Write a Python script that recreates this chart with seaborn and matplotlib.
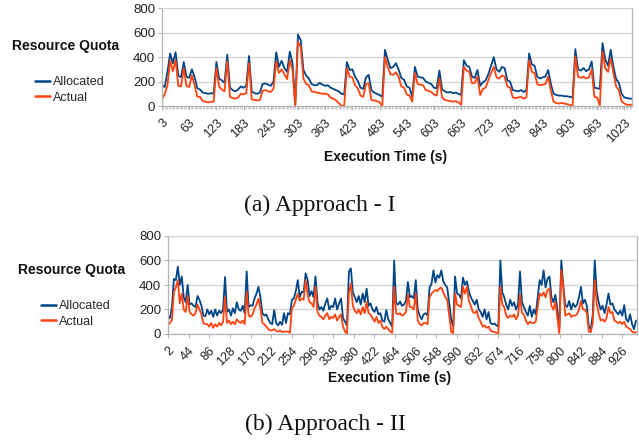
import numpy as np
import pandas as pd
import seaborn as sns
import matplotlib
matplotlib.use("Agg")
import matplotlib.pyplot as plt
from matplotlib.ticker import MultipleLocator
from matplotlib.lines import Line2D

# ---------------- data: Approach I (sampled every 6 s, from 3 s) ----------------
time_a_start, time_a_step, time_a_end = 3, 6, 1041
alloc_a = [
    170, 155, 280, 430, 350, 440, 250, 235, 360, 240,
    230, 300, 235, 145, 135, 110, 105, 100, 105, 100,
    360, 225, 210, 190, 420, 150, 130, 120, 135, 160,
    150, 165, 410, 120, 105, 100, 110, 180, 185, 175,
    165, 200, 440, 320, 370, 310, 280, 445, 350, 10,
    585, 540, 295, 250, 225, 180, 170, 170, 190, 175,
    165, 170, 150, 140, 130, 120, 100, 95, 360, 295,
    300, 240, 205, 150, 140, 235, 255, 130, 110, 100,
    90, 75, 460, 380, 310, 320, 350, 300, 230, 215,
    160, 150, 75, 320, 240, 235, 230, 200, 190, 180,
    150, 145, 290, 135, 120, 110, 115, 105, 110, 100,
    90, 375, 330, 320, 240, 230, 295, 165, 195, 210,
    260, 330, 400, 300, 280, 320, 310, 210, 200, 130,
    125, 120, 130, 115, 130, 430, 340, 330, 240, 225,
    235, 240, 295, 180, 100, 90, 85, 85, 80, 80,
    75, 70, 465, 300, 290, 310, 285, 300, 365, 150,
    145, 140, 515, 380, 330, 460, 320, 220, 190, 100,
    70, 65, 60, 60,
]
actual_a = [
    60, 95, 170, 375, 285, 375, 165, 160, 310, 165,
    155, 250, 170, 75, 75, 40, 35, 30, 35, 35,
    310, 160, 135, 120, 365, 75, 65, 60, 70, 100,
    95, 105, 350, 55, 50, 45, 50, 125, 130, 120,
    115, 140, 365, 270, 300, 260, 220, 375, 295, 0,
    525, 485, 225, 180, 170, 120, 115, 110, 105, 100,
    100, 95, 70, 60, 45, 25, 0, 5, 310, 240,
    235, 170, 145, 85, 75, 180, 185, 50, 45, 40,
    30, 0, 400, 320, 260, 255, 275, 240, 160, 150,
    95, 85, 35, 270, 180, 175, 170, 130, 125, 115,
    95, 85, 225, 70, 50, 45, 40, 35, 40, 30,
    10, 320, 290, 280, 185, 190, 240, 90, 140, 150,
    210, 270, 320, 235, 225, 250, 240, 160, 150, 70,
    65, 70, 75, 60, 70, 375, 280, 270, 180, 170,
    175, 180, 240, 125, 35, 25, 20, 25, 20, 15,
    10, 0, 405, 240, 230, 240, 225, 235, 300, 75,
    70, 5, 445, 310, 280, 390, 270, 160, 130, 40,
    20, 10, 10, 10,
]
ticks_a = [3, 63, 123, 183, 243, 303, 363, 423, 483, 543, 603, 663,
           723, 783, 843, 903, 963, 1023]

# ---------------- data: Approach II (sampled every 4 s, from 2 s) ----------------
time_b_start, time_b_step, time_b_end = 2, 4, 954
alloc_b = [
    140, 130, 220, 450, 440, 550, 400, 470, 300, 260,
    400, 240, 250, 230, 220, 310, 280, 230, 150, 145,
    200, 160, 190, 140, 200, 150, 190, 170, 200, 465,
    180, 200, 150, 210, 170, 260, 200, 190, 230, 170,
    510, 220, 235, 230, 290, 330, 385, 300, 170, 150,
    160, 120, 90, 80, 195, 90, 70, 100, 75, 170,
    90, 170, 160, 280, 290, 350, 440, 300, 345, 340,
    495, 440, 310, 350, 300, 470, 260, 200, 220, 190,
    250, 290, 200, 230, 220, 290, 200, 250, 290, 130,
    100, 70, 510, 535, 340, 300, 260, 310, 240, 330,
    260, 370, 230, 250, 200, 180, 220, 160, 170, 110,
    100, 195, 120, 90, 60, 600, 250, 240, 265, 230,
    240, 270, 425, 300, 310, 290, 440, 200, 150, 120,
    160, 170, 150, 380, 410, 520, 420, 480, 460, 520,
    430, 400, 380, 250, 120, 60, 470, 330, 320, 290,
    460, 400, 430, 350, 300, 270, 240, 280, 200, 180,
    140, 200, 120, 180, 90, 80, 85, 70, 60, 600,
    340, 300, 240, 200, 280, 230, 260, 200, 240, 510,
    260, 220, 180, 150, 230, 140, 200, 160, 300, 440,
    400, 520, 380, 450, 470, 300, 260, 320, 200, 45,
    600, 400, 240, 220, 270, 200, 250, 220, 240, 300,
    385, 250, 280, 230, 60, 40, 160, 600, 350, 260,
    200, 230, 170, 240, 330, 240, 250, 200, 180, 160,
    190, 150, 235, 120, 100, 160, 80, 40, 110,
]
actual_b = [
    75, 90, 115, 345, 380, 440, 250, 330, 200, 180,
    310, 180, 160, 150, 170, 240, 200, 160, 90, 80,
    80, 60, 90, 50, 80, 60, 90, 70, 100, 300,
    90, 110, 80, 100, 80, 120, 100, 90, 110, 80,
    345, 150, 140, 160, 210, 240, 290, 210, 90, 80,
    60, 40, 30, 30, 40, 25, 20, 30, 15, 20,
    20, 20, 10, 210, 230, 280, 330, 270, 290, 280,
    440, 320, 260, 250, 220, 385, 180, 150, 140, 120,
    150, 170, 120, 140, 130, 160, 110, 140, 160, 60,
    20, 0, 330, 410, 230, 190, 170, 200, 160, 220,
    170, 260, 170, 160, 130, 100, 140, 90, 110, 60,
    40, 60, 40, 20, 10, 385, 170, 160, 170, 150,
    160, 180, 320, 220, 220, 200, 330, 110, 80, 70,
    90, 90, 80, 300, 330, 345, 360, 350, 370, 380,
    340, 300, 280, 150, 20, 5, 330, 240, 230, 220,
    385, 330, 385, 270, 230, 180, 170, 190, 130, 100,
    60, 70, 50, 60, 30, 20, 15, 10, 5, 385,
    240, 220, 150, 130, 150, 140, 160, 120, 150, 320,
    170, 160, 110, 80, 100, 90, 90, 100, 220, 330,
    310, 340, 300, 360, 370, 230, 200, 260, 130, 5,
    520, 380, 150, 160, 170, 140, 150, 150, 160, 200,
    270, 200, 200, 170, 20, 15, 90, 440, 250, 170,
    110, 120, 100, 130, 220, 170, 180, 110, 100, 90,
    100, 80, 100, 60, 50, 40, 20, 10, 15,
]
ticks_b = [2, 44, 86, 128, 170, 212, 254, 296, 338, 380, 422, 464, 506,
           548, 590, 632, 674, 716, 758, 800, 842, 884, 926]

series_names = ["Allocated", "Actual"]
y_ticks = [0, 200, 400, 600, 800]

# ---------------- styling ----------------
sns.set_style("white")
plt.rcParams['font.family'] = ['Liberation Sans', 'DejaVu Sans']

BLUE = "#004586"
ORANGE = "#ff420e"
GRID = "#d4d4d4"
SPINE = "#b3b3b3"
palette = {"Allocated": BLUE, "Actual": ORANGE}

W, H = 639, 440
fig = plt.figure(figsize=(W / 100, H / 100), dpi=100)


def fx(px):
    return px / W


def fy(py):
    return 1 - py / H


ax1 = fig.add_axes([fx(162), fy(106), (632 - 162) / W, (106 - 8.3) / H])
ax2 = fig.add_axes([fx(168), fy(334), (637 - 168) / W, (334 - 236) / H])


def draw(ax, start, step, end, alloc, actual, ticks, xmax, minor_step):
    t = np.arange(start, end + 1, step)
    assert len(t) == len(alloc) == len(actual), (len(t), len(alloc), len(actual))
    df = pd.DataFrame({
        "t": np.concatenate([t, t]),
        "v": list(alloc) + list(actual),
        "s": [series_names[0]] * len(t) + [series_names[1]] * len(t),
    })
    sns.lineplot(data=df, x="t", y="v", hue="s", hue_order=series_names,
                 palette=palette, ax=ax, linewidth=1.3, legend=False,
                 estimator=None, sort=False)
    ax.set_xlim(start, xmax)
    ax.set_ylim(0, 800)
    ax.set_yticks(y_ticks)
    ax.set_yticklabels([str(v) for v in y_ticks], fontsize=9.5, color="#222222")
    ax.set_xticks(ticks)
    ax.set_xticklabels([str(v) for v in ticks], fontsize=9, color="#222222",
                       rotation=45, ha="right", va="top",
                       rotation_mode="anchor")
    if minor_step:
        ax.xaxis.set_minor_locator(MultipleLocator(minor_step))
        ax.tick_params(axis="x", which="minor", length=2.5, width=0.6,
                       color="#c8c8c8", direction="out", bottom=True)
    ax.tick_params(axis="x", which="major", length=3, width=0.7,
                   color="#b0b0b0", direction="out", bottom=True, pad=5)
    ax.tick_params(axis="y", which="major", length=3, width=0.7,
                   color="#b0b0b0", direction="out", left=True, pad=2)
    ax.yaxis.grid(True, color=GRID, linewidth=0.9)
    ax.xaxis.grid(False)
    ax.set_axisbelow(True)
    for sp in ax.spines.values():
        sp.set_color(SPINE)
        sp.set_linewidth(0.9)
        sp.set_visible(True)
    ax.spines["top"].set_color(GRID)
    ax.set_xlabel("")
    ax.set_ylabel("")


draw(ax1, time_a_start, time_a_step, time_a_end, alloc_a, actual_a, ticks_a, 1040, 3)
draw(ax2, time_b_start, time_b_step, time_b_end, alloc_b, actual_b, ticks_b, 956, None)

handles = [Line2D([], [], color=palette[n], linewidth=1.8) for n in series_names]
serif = ["Liberation Serif", "DejaVu Serif"]

# panel (a) side texts
fig.text(fx(66), fy(46), "Resource Quota", ha="center", va="center",
         fontsize=10, fontweight="bold", color="#111111")
fig.legend(handles, series_names, loc="upper left",
           bbox_to_anchor=(fx(35), fy(76)), frameon=False, fontsize=9,
           handlelength=1.2, handletextpad=0.25, labelspacing=0.3,
           borderpad=0, borderaxespad=0)
fig.text(fx(386), fy(157), "Execution Time (s)", ha="center", va="center",
         fontsize=10, fontweight="bold", color="#111111")
fig.text(fx(320), fy(205), "(a) Approach - I", ha="center", va="center",
         fontsize=17, family=serif, color="#111111")

# panel (b) side texts
fig.text(fx(72), fy(270), "Resource Quota", ha="center", va="center",
         fontsize=10, fontweight="bold", color="#111111")
fig.legend(handles, series_names, loc="upper left",
           bbox_to_anchor=(fx(41), fy(300)), frameon=False, fontsize=9,
           handlelength=1.2, handletextpad=0.25, labelspacing=0.3,
           borderpad=0, borderaxespad=0)
fig.text(fx(390), fy(378), "Execution Time (s)", ha="center", va="center",
         fontsize=10, fontweight="bold", color="#111111")
fig.text(fx(325), fy(424), "(b) Approach - II", ha="center", va="center",
         fontsize=17, family=serif, color="#111111")

fig.savefig("out.png", dpi=100)
